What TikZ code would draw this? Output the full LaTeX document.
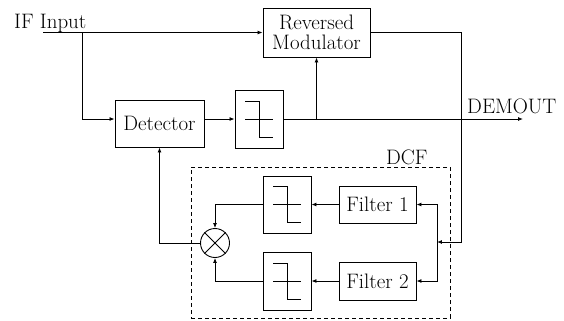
\documentclass[tikz,border=0pt]{standalone}
\usepackage{tikz}
\usetikzlibrary{arrows.meta,calc}
\tikzset{
  blk/.style={draw,line width=0.9pt,font=\fontsize{21}{20}\selectfont,align=center,inner sep=1pt},
  limbox/.style={draw,line width=0.9pt,minimum width=48bp,minimum height=58bp},
  mixer/.style={draw,circle,line width=0.9pt,minimum size=29bp,inner sep=0pt},
  wire/.style={line width=0.85pt},
  sig/.style={wire,-{Latex[length=5pt,width=4pt]}},
  lbl/.style={font=\fontsize{21}{20}\selectfont,inner sep=0pt},
  dcfbox/.style={draw,line width=0.8pt,dash pattern=on 4bp off 3bp,inner sep=0pt},
}
\newcommand{\limsym}[1]{%
  \begin{scope}[shift={(#1)},line width=0.75pt]
    \draw (-14,0) -- (14,0);
    \draw (-14,-18) -- (0,-18) -- (0,18) -- (14,18);
  \end{scope}}

\begin{document}
\begin{tikzpicture}[x=1bp,y=-1bp]
  \useasboundingbox (0,0) rectangle (564,320);
  % forward path
  \node[lbl,anchor=base west] (ifin) at (14,28) {IF Input};
  \coordinate (in) at (43,32.5);
  \coordinate (split) at (82,32.5);
  \node[blk,minimum width=107bp,minimum height=49bp] (rm) at (316.5,32.5) {Reversed\\Modulator};
  \node[blk,minimum width=89bp,minimum height=47bp] (det) at (159.5,123.5) {Detector};
  \node[limbox] (lim) at (259,119) {};
  \limsym{lim}
  \coordinate (out) at (523,119);
  \node[lbl,anchor=base west] (demout) at (467,113) {DEMOUT};
  \draw[sig] (in) -- (rm.west);
  \draw[sig] (split) |- (lim.west -| det.west);
  \draw[sig] (lim.west -| det.east) -- (lim.west);
  \draw[sig] (lim.east) -- (out);
  \draw[sig] (lim.east -| rm.south) -- (rm.south);
  % DCF
  \node[dcfbox,minimum width=259bp,minimum height=151bp] (dcf) at (320.5,242.5) {};
  \node[lbl,anchor=base west] (dcflbl) at (386,164) {DCF};
  \node[blk,minimum width=77bp,minimum height=37bp] (f1) at (377.5,204.5) {Filter 1};
  \node[blk,minimum width=77bp,minimum height=38bp] (f2) at (377.5,281) {Filter 2};
  \node[limbox,minimum height=57bp] (l1) at (287,204.5) {};
  \node[limbox] (l2) at (287,281) {};
  \limsym{l1}
  \limsym{l2}
  \node[mixer] (mix) at (215,243) {};
  \draw[wire] (mix.north west) -- (mix.south east) (mix.north east) -- (mix.south west);
  \coordinate (ret) at (461,242);
  \coordinate (fork) at (437,242);
  \draw[sig] (rm.east) -| (ret) -- (fork);
  \draw[sig] (fork) |- (f1.east);
  \draw[sig] (fork) |- (f2.east);
  \draw[sig] (f1.west) -- (l1.east);
  \draw[sig] (f2.west) -- (l2.east);
  \draw[sig] (l1.west) -| (mix.north);
  \draw[sig] (l2.west) -| (mix.south);
  \draw[sig] (mix.west) -| (det.south);
\end{tikzpicture}
\end{document}
